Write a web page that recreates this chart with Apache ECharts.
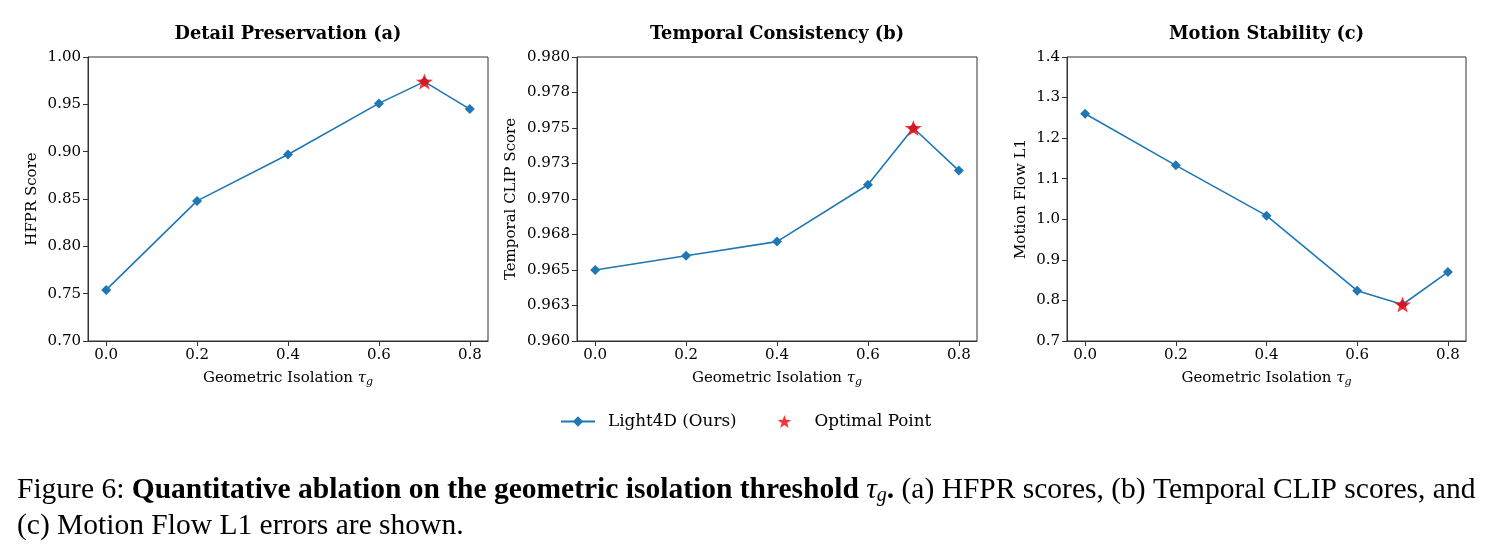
<!DOCTYPE html>
<html>
<head>
<meta charset="utf-8">
<script src="https://cdn.jsdelivr.net/npm/echarts@6/dist/echarts.min.js"></script>
<style>
  html, body { margin: 0; padding: 0; background: #fff; }
  #chart { width: 1491px; height: 559px; }
</style>
</head>
<body>
<div id="chart"></div>
<script>
// data
const xValues = [0.0, 0.2, 0.4, 0.6, 0.7, 0.8];
const xTicks = [0.0, 0.2, 0.4, 0.6, 0.8];
const xTickLabels = ["0.0", "0.2", "0.4", "0.6", "0.8"];

const hfpr = [0.754, 0.848, 0.897, 0.951, 0.974, 0.945];
const clipScore = [0.965, 0.966, 0.967, 0.971, 0.975, 0.972];
const flowL1 = [1.26, 1.133, 1.009, 0.824, 0.79, 0.87];
const optimalIndex = 4; // tau_g = 0.7

const hfprTicks = [0.70, 0.75, 0.80, 0.85, 0.90, 0.95, 1.00];
const hfprTickLabels = ["0.70", "0.75", "0.80", "0.85", "0.90", "0.95", "1.00"];
const clipTicks = [0.96, 0.9625, 0.965, 0.9675, 0.97, 0.9725, 0.975, 0.9775, 0.98];
const clipTickLabels = ["0.960", "0.963", "0.965", "0.968", "0.970", "0.973", "0.975", "0.978", "0.980"];
const flowTicks = [0.7, 0.8, 0.9, 1.0, 1.1, 1.2, 1.3, 1.4];
const flowTickLabels = ["0.7", "0.8", "0.9", "1.0", "1.1", "1.2", "1.3", "1.4"];

const titles = ["Detail Preservation (a)", "Temporal Consistency (b)", "Motion Stability (c)"];
const yNames = ["HFPR Score", "Temporal CLIP Score", "Motion Flow L1"];

const lineColor = "#1f77b4";
const starColor = "#ff0000";
const serif = "DejaVu Serif";
const times = "Liberation Serif";
const starPath = "path://M0,-10L2.35,-3.24L9.51,-3.09L3.8,1.24L5.88,8.09L0,4L-5.88,8.09L-3.8,1.24L-9.51,-3.09L-2.35,-3.24Z";

// panel boxes (left, width)
const panels = [
  { left: 88, width: 400, ticks: hfprTicks, labels: hfprTickLabels, data: hfpr, nameGap: 48 },
  { left: 577, width: 400, ticks: clipTicks, labels: clipTickLabels, data: clipScore, nameGap: 58 },
  { left: 1067, width: 399, ticks: flowTicks, labels: flowTickLabels, data: flowL1, nameGap: 38 },
];
const gridTop = 57;
const gridHeight = 284;

function labelFor(ticks, labels) {
  return function (v) {
    for (let i = 0; i < ticks.length; i++) {
      if (Math.abs(ticks[i] - v) < 1e-9) return labels[i];
    }
    return "";
  };
}

const chart = echarts.init(document.getElementById("chart"), null, { renderer: "canvas" });

const grid = [], xAxis = [], yAxis = [], series = [], title = [];

panels.forEach((p, i) => {
  grid.push({
    left: p.left, width: p.width, top: gridTop, height: gridHeight,
    show: true, borderColor: "#333", borderWidth: 1, backgroundColor: "transparent",
  });
  title.push({
    text: titles[i],
    left: p.left + p.width / 2,
    top: 25,
    padding: 0,
    textAlign: "center",
    textStyle: { fontFamily: serif, fontWeight: "bold", fontSize: 17.8, color: "#000" },
  });
  xAxis.push({
    type: "value", gridIndex: i, min: -0.04, max: 0.84,
    name: "{n|Geometric Isolation }{t|τ}{s|g}",
    nameLocation: "middle", nameGap: 28,
    nameTextStyle: {
      rich: {
        n: { fontFamily: serif, fontSize: 15, color: "#000" },
        t: { fontFamily: serif, fontStyle: "italic", fontSize: 15, color: "#000" },
        s: { fontFamily: serif, fontStyle: "italic", fontSize: 11, color: "#000", padding: [8, 0, 0, 0] },
      },
    },
    axisLine: { show: true, onZero: false, lineStyle: { color: "#333", width: 1 } },
    axisTick: { show: true, inside: false, length: 5, customValues: xTicks, lineStyle: { color: "#333" } },
    axisLabel: {
      customValues: xTicks, formatter: labelFor(xTicks, xTickLabels),
      fontFamily: serif, fontSize: 15, color: "#000", margin: 7,
    },
    splitLine: { show: false },
  });
  yAxis.push({
    type: "value", gridIndex: i,
    min: p.ticks[0], max: p.ticks[p.ticks.length - 1],
    name: yNames[i], nameLocation: "middle", nameRotate: 90, nameGap: p.nameGap,
    nameTextStyle: { fontFamily: serif, fontSize: 15, color: "#000" },
    axisLine: { show: true, onZero: false, lineStyle: { color: "#333", width: 1 } },
    axisTick: { show: true, inside: false, length: 5, customValues: p.ticks, lineStyle: { color: "#333" } },
    axisLabel: {
      customValues: p.ticks, formatter: labelFor(p.ticks, p.labels),
      fontFamily: serif, fontSize: 15, color: "#000", margin: 7,
    },
    splitLine: { show: false },
  });
  series.push({
    name: "Light4D (Ours)",
    type: "line", xAxisIndex: i, yAxisIndex: i,
    data: xValues.map((x, k) => [x, p.data[k]]),
    symbol: "diamond", symbolSize: 10, showAllSymbol: true,
    lineStyle: { color: lineColor, width: 1.6 },
    itemStyle: { color: lineColor },
    animation: false, z: 2,
  });
  series.push({
    name: "Optimal Point",
    type: "scatter", xAxisIndex: i, yAxisIndex: i,
    data: [[xValues[optimalIndex], p.data[optimalIndex]]],
    symbol: starPath, symbolSize: 17, symbolKeepAspect: true,
    itemStyle: { color: starColor },
    animation: false, z: 5,
  });
});

chart.setOption({
  backgroundColor: "#fff",
  animation: false,
  title,
  grid,
  xAxis,
  yAxis,
  legend: {
    data: [
      { name: "Light4D (Ours)" },
      { name: "Optimal Point", icon: starPath, itemStyle: { color: starColor } },
    ],
    top: 413, left: 560, padding: 0,
    itemWidth: 34, itemHeight: 13, itemGap: 41,
    textStyle: { fontFamily: serif, fontSize: 16.8, color: "#000", padding: [0, 0, 0, 8] },
  },
  series,
  graphic: [
    {
      type: "text", left: 17, top: 475,
      style: {
        text: "{r|Figure 6: }{b|Quantitative ablation on the geometric isolation threshold }{i|τ}{s|g}{b|.}{r| (a) HFPR scores, (b) Temporal CLIP scores, and}",
        rich: {
          r: { fontFamily: times, fontSize: 29.5, fill: "#000" },
          b: { fontFamily: times, fontSize: 29.5, fontWeight: "bold", fill: "#000" },
          i: { fontFamily: times, fontSize: 29.5, fontStyle: "italic", fill: "#000" },
          s: { fontFamily: times, fontSize: 20, fontStyle: "italic", fill: "#000", padding: [11, 0, 0, 0] },
        },
      },
    },
    {
      type: "text", left: 17, top: 511,
      style: {
        text: "(c) Motion Flow L1 errors are shown.",
        fontFamily: times, fontSize: 29.5, fill: "#000",
      },
    },
  ],
});
</script>
</body>
</html>
